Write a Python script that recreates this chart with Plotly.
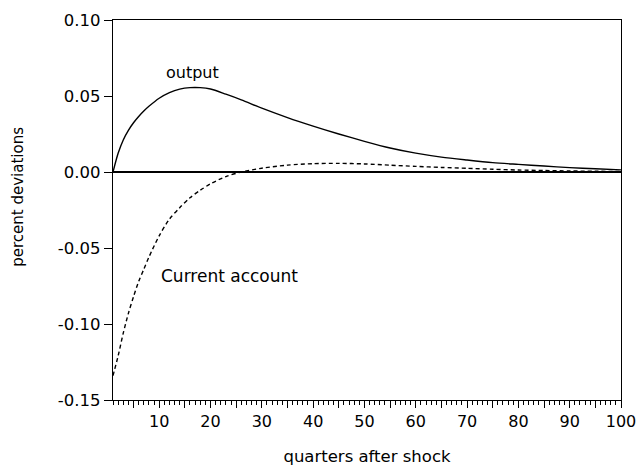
import plotly.graph_objects as go

quarters = [1, 2, 3, 4, 5, 6, 7, 8, 10, 12, 14, 16, 18, 20, 23, 26, 30, 35, 40, 45,
            50, 55, 60, 65, 70, 75, 80, 85, 90, 95, 100]
output = [0.0, 0.0123, 0.0211, 0.0274, 0.0324, 0.0365, 0.0401, 0.0432, 0.0485, 0.0522,
          0.0545, 0.0555, 0.0555, 0.0546, 0.0512, 0.0475, 0.0420, 0.0358, 0.0302, 0.0250,
          0.0202, 0.0158, 0.0124, 0.0098, 0.0079, 0.0062, 0.0050, 0.0039, 0.0029, 0.0021, 0.0014]
current_account = [-0.134, -0.121, -0.106, -0.093, -0.082, -0.072, -0.064, -0.056, -0.042,
                   -0.031, -0.0235, -0.017, -0.012, -0.0078, -0.003, 0.0, 0.0025, 0.0045,
                   0.0055, 0.0057, 0.0053, 0.0045, 0.0037, 0.003, 0.0024, 0.0018, 0.0013,
                   0.001, 0.0007, 0.0005, 0.0003]

y_tickvals = [0.10, 0.05, 0.00, -0.05, -0.10, -0.15]
y_ticktext = ["0.10", "0.05", "0.00", "-0.05", "-0.10", "-0.15"]
x_tickvals = list(range(5, 101, 5))
x_ticktext = [str(v) if v % 10 == 0 else "" for v in x_tickvals]

FONT = "DejaVu Sans"

fig = go.Figure()
fig.add_trace(go.Scatter(x=quarters, y=output, mode="lines", name="output",
                         line=dict(color="black", width=1.4, shape="spline", smoothing=0.8)))
fig.add_trace(go.Scatter(x=quarters, y=current_account, mode="lines", name="Current account",
                         line=dict(color="black", width=1.4, dash="4px,3px", shape="spline", smoothing=0.8)))

fig.add_annotation(x=16.4, y=0.0656, text="output", showarrow=False,
                   font=dict(family=FONT, size=16, color="black"))
fig.add_annotation(x=23.7, y=-0.0686, text="Current account", showarrow=False,
                   font=dict(family=FONT, size=17, color="black"))
fig.add_annotation(xref="paper", x=0, xshift=-95, yref="y", y=-0.0163,
                   text="percent deviations", textangle=-90, showarrow=False,
                   xanchor="center", yanchor="middle",
                   font=dict(family=FONT, size=15, color="black"))

fig.update_layout(
    width=639, height=468,
    margin=dict(l=113, r=18, t=20, b=68),
    paper_bgcolor="white", plot_bgcolor="white",
    showlegend=False,
    font=dict(family=FONT, size=16, color="black"),
)
fig.update_xaxes(
    range=[1, 100], showgrid=False, zeroline=False,
    showline=True, mirror=True, linecolor="black", linewidth=1.4,
    tickmode="array", tickvals=x_tickvals, ticktext=x_ticktext,
    ticks="outside", ticklen=7, tickwidth=1, tickcolor="black",
    minor=dict(tickmode="linear", tick0=0, dtick=1, ticks="outside", ticklen=4,
               tickwidth=1, tickcolor="black", showgrid=False),
    tickfont=dict(family=FONT, size=16),
    title=dict(text="quarters after shock", font=dict(family=FONT, size=16.5), standoff=20),
    automargin=False,
)
fig.update_yaxes(
    range=[-0.15, 0.10], showgrid=False,
    zeroline=True, zerolinecolor="black", zerolinewidth=2,
    showline=True, mirror=True, linecolor="black", linewidth=1.4,
    tickmode="array", tickvals=y_tickvals, ticktext=y_ticktext,
    ticks="outside", ticklen=8, tickwidth=1, tickcolor="black",
    tickfont=dict(family=FONT, size=16.5),
    automargin=False,
)

fig.write_html("out.html", config={"displayModeBar": False},
               post_script="document.body.style.margin='0';")
